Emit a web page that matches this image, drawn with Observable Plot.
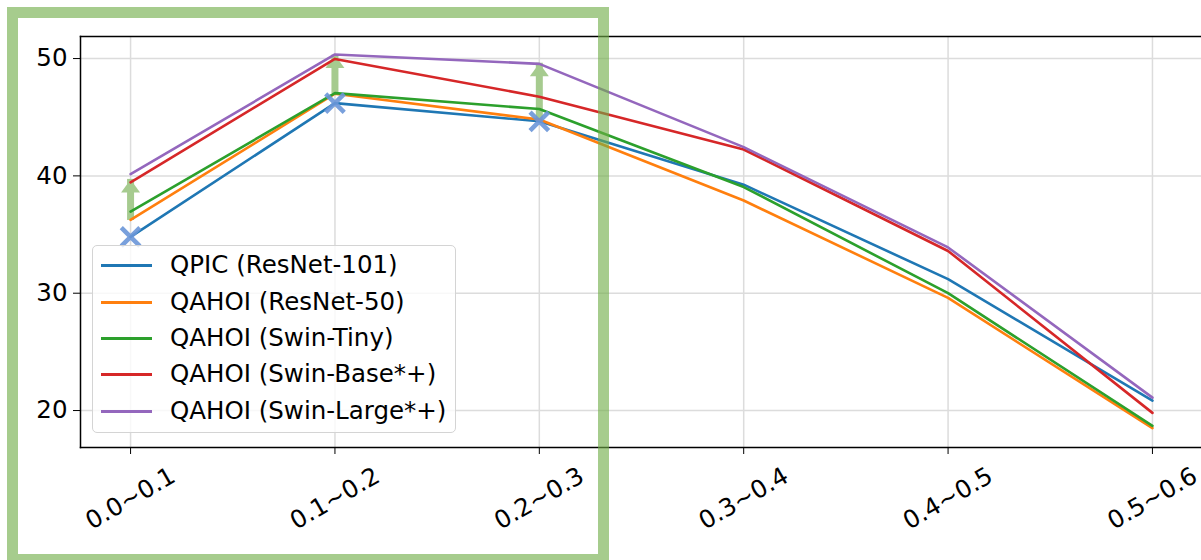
<!DOCTYPE html>
<html>
<head>
<meta charset="utf-8">
<script src="https://cdn.jsdelivr.net/npm/d3@7"></script>
<script src="https://cdn.jsdelivr.net/npm/@observablehq/plot@0.6"></script>
<style>
html,body{margin:0;padding:0;background:#fff;overflow:hidden}
#wrap{position:relative;width:1201px;height:560px;font-family:"DejaVu Sans",sans-serif;overflow:hidden}
#wrap svg{position:absolute;left:0;top:0}
#hl{position:absolute;left:7px;top:7px;width:602px;height:558px;box-sizing:border-box;border:11.5px solid #70ad47;opacity:.62;pointer-events:none}
#legend{position:absolute;left:92px;top:245px;width:364px;height:188px;box-sizing:border-box;border:1.5px solid #d4d4d4;border-radius:5px;background:rgba(255,255,255,0.8)}
.item{position:absolute;left:0;height:30px;width:360px}
.item .sw{position:absolute;left:8px;width:51px;height:3px}
.item .lab{position:absolute;left:77px;font-size:24.5px;line-height:30px;color:#000;white-space:nowrap}
</style>
</head>
<body>
<div id="wrap"></div>
<script>
// ---- data ----
const categories = ["0.0~0.1", "0.1~0.2", "0.2~0.3", "0.3~0.4", "0.4~0.5", "0.5~0.6"];
const seriesNames = ["QPIC (ResNet-101)", "QAHOI (ResNet-50)", "QAHOI (Swin-Tiny)", "QAHOI (Swin-Base*+)", "QAHOI (Swin-Large*+)"];
const seriesColors = ["#1f77b4", "#ff7f0e", "#2ca02c", "#d62728", "#9467bd"];
const qpicResNet101 = [34.8, 46.2, 44.65, 39.25, 31.2, 20.85];
const qahoiResNet50 = [36.25, 47.0, 44.8, 37.9, 29.6, 18.5];
const qahoiSwinTiny = [36.95, 47.05, 45.7, 39.05, 30.0, 18.7];
const qahoiSwinBase = [39.45, 49.97, 46.75, 42.25, 33.6, 19.8];
const qahoiSwinLarge = [40.15, 50.35, 49.55, 42.45, 33.9, 21.1];
const yTicks = [20, 30, 40, 50];
// improvement arrows (category index, start value, tip value)
const arrowIdx = [0, 1, 2];
const arrowFrom = [36.2, 47.0, 44.8];
const arrowTo = [39.7, 50.3, 49.6];
// highlighted QPIC points
const markIdx = [0, 1, 2];

// ---- build tables ----
const allSeries = [qpicResNet101, qahoiResNet50, qahoiSwinTiny, qahoiSwinBase, qahoiSwinLarge];
const rows = [];
allSeries.forEach((vals, s) => vals.forEach((v, i) => rows.push({series: seriesNames[s], i, v})));
const arrows = arrowIdx.map((i, k) => ({i, from: arrowFrom[k], to: arrowTo[k]}));
const marks = markIdx.map(i => ({i, v: qpicResNet101[i]}));
const idx = categories.map((c, i) => i);

const arrowHead = {
  draw(ctx) {
    ctx.moveTo(0, 0);
    ctx.lineTo(9.5, 13);
    ctx.lineTo(-9.5, 13);
    ctx.closePath();
  }
};
const arrowColor = "#a6cb8f";
const fs = 24.5;

const chart = Plot.plot({
  width: 1201,
  height: 560,
  marginLeft: 80,
  marginRight: 0,
  marginTop: 36,
  marginBottom: 113,
  style: {fontFamily: "DejaVu Sans, sans-serif", fontSize: fs + "px", color: "#000", background: "transparent"},
  x: {type: "linear", domain: [-0.245, 5.24], label: null},
  y: {domain: [16.85, 51.88], label: null},
  color: {domain: seriesNames, range: seriesColors},
  marks: [
    Plot.gridX({ticks: idx, stroke: "#dcdcdc", strokeOpacity: 1, strokeWidth: 1.5}),
    Plot.gridY({ticks: yTicks, stroke: "#dcdcdc", strokeOpacity: 1, strokeWidth: 1.5}),
    Plot.ruleX(arrows, {x: "i", y1: "from", y2: "to", stroke: arrowColor, strokeWidth: 7}),
    Plot.dot(arrows, {x: "i", y: "to", symbol: arrowHead, fill: arrowColor, stroke: "none", r: 5}),
    Plot.line(rows, {x: "i", y: "v", z: "series", stroke: "series", strokeWidth: 2.6, curve: "linear"}),
    Plot.dot(marks, {x: "i", y: "v", symbol: "times", r: 8.5, stroke: "#6a96d8", strokeOpacity: 0.9, strokeWidth: 4.5}),
    Plot.frame({anchor: "top", stroke: "#000", strokeWidth: 1.5}),
    Plot.frame({anchor: "left", stroke: "#000", strokeWidth: 1.5}),
    Plot.frame({anchor: "bottom", stroke: "#000", strokeWidth: 1.5}),
    Plot.axisY({ticks: yTicks, tickSize: 7, tickPadding: 6, label: null, fontSize: fs, stroke: "#000"}),
    Plot.axisX({ticks: idx, tickSize: 7, tickFormat: () => "", label: null, stroke: "#000"}),
    Plot.text(categories, {x: (d, i) => i, text: d => d, frameAnchor: "bottom", dy: 51, rotate: -30,
      textAnchor: "middle", lineAnchor: "middle", fontSize: fs, fill: "#000"})
  ]
});

const wrap = document.getElementById("wrap");
wrap.appendChild(chart);

// legend
const legend = document.createElement("div");
legend.id = "legend";
const rowTops = [20.7, 57.3, 93.2, 129.5, 166];
seriesNames.forEach((name, k) => {
  const it = document.createElement("div");
  it.className = "item";
  it.style.top = Math.round(rowTops[k] - 15 - 1.5) + "px";
  const sw = document.createElement("div");
  sw.className = "sw";
  sw.style.top = "14px";
  sw.style.background = seriesColors[k];
  const lab = document.createElement("div");
  lab.className = "lab";
  lab.textContent = name;
  it.appendChild(sw);
  it.appendChild(lab);
  legend.appendChild(it);
});
wrap.appendChild(legend);

// highlight box
const hl = document.createElement("div");
hl.id = "hl";
wrap.appendChild(hl);
</script>
</body>
</html>
